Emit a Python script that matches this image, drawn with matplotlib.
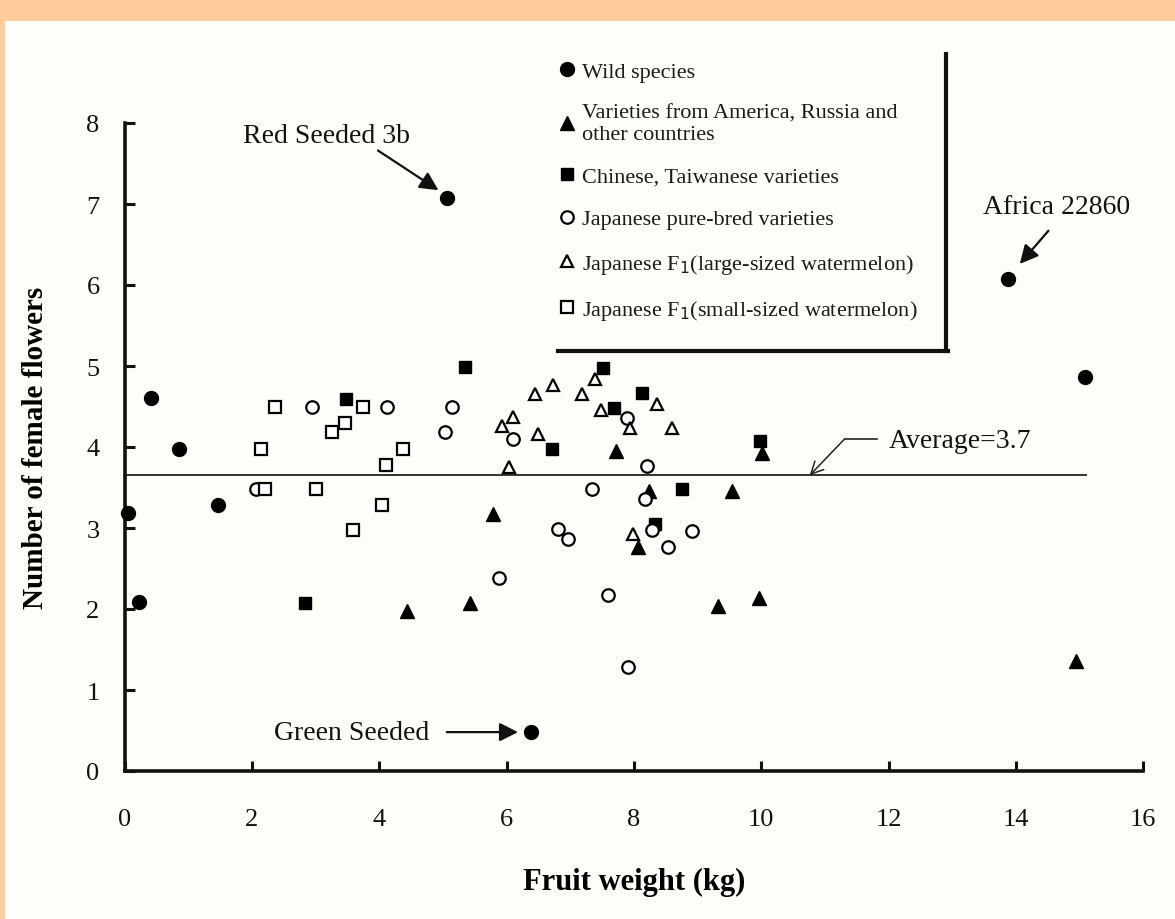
import matplotlib
matplotlib.use("Agg")
import matplotlib.pyplot as plt
from matplotlib.lines import Line2D
from matplotlib.patches import Rectangle

plt.rcParams['font.family'] = ['Liberation Serif', 'DejaVu Serif']

# ---------------- data ----------------
wild_x = [0.06, 0.22, 0.42, 0.85, 1.46, 5.06, 6.39, 13.88, 15.08]
wild_y = [3.18, 2.09, 4.60, 3.98, 3.28, 7.08, 0.48, 6.08, 4.87]

foreign_x = [5.78, 4.43, 5.42, 7.72, 8.07, 8.23, 9.54, 9.32, 9.97, 10.01, 14.95]
foreign_y = [3.17, 1.97, 2.07, 3.95, 2.76, 3.46, 3.46, 2.04, 2.14, 3.93, 1.36]

chinese_x = [3.48, 5.34, 2.84, 7.51, 8.13, 7.68, 6.71, 9.98, 8.75, 8.33]
chinese_y = [4.59, 4.99, 2.08, 4.98, 4.67, 4.48, 3.98, 4.08, 3.48, 3.05]

pure_x = [2.95, 4.12, 5.14, 5.04, 2.07, 5.88, 6.10, 7.89, 8.20, 7.34, 8.17,
          6.81, 6.96, 8.28, 8.54, 8.91, 7.59, 7.91]
pure_y = [4.49, 4.49, 4.49, 4.18, 3.48, 2.38, 4.10, 4.36, 3.77, 3.48, 3.36,
          2.99, 2.87, 2.97, 2.77, 2.96, 2.17, 1.28]

f1_large_x = [6.45, 6.10, 5.92, 6.50, 6.03, 6.73, 7.19, 7.39, 7.49, 8.36, 7.94, 8.59, 7.99]
f1_large_y = [4.66, 4.37, 4.26, 4.16, 3.75, 4.76, 4.65, 4.84, 4.46, 4.53, 4.24, 4.24, 2.93]

f1_small_x = [2.36, 3.74, 3.46, 3.26, 2.14, 4.38, 4.11, 2.21, 3.00, 4.04, 3.58]
f1_small_y = [4.49, 4.49, 4.30, 4.18, 3.98, 3.98, 3.78, 3.48, 3.48, 3.28, 2.98]

average_value = 3.65
average_x = [0.0, 15.1]
average_label = "Average=3.7"

labels = ["Wild species",
          "Varieties from America, Russia and\nother countries",
          "Chinese, Taiwanese varieties",
          "Japanese pure-bred varieties",
          "Japanese F$_1$(large-sized watermelon)",
          "Japanese F$_1$(small-sized watermelon)"]

x_ticks = [0, 2, 4, 6, 8, 10, 12, 14, 16]
y_ticks = [0, 1, 2, 3, 4, 5, 6, 7, 8]

# ---------------- figure ----------------
W, H = 1175, 920
fig = plt.figure(figsize=(W / 100, H / 100), dpi=100)
fig.patch.set_facecolor('#FEFEF9')

# scan border (peach strips)
fig.add_artist(Rectangle((0, 1 - 22 / H), 1, 22 / H, transform=fig.transFigure,
                         facecolor='#FFCB99', edgecolor='none', zorder=0))
fig.add_artist(Rectangle((0, 0), 5 / W, 1, transform=fig.transFigure,
                         facecolor='#FFCB99', edgecolor='none', zorder=0))

ax = fig.add_axes([124.6 / W, 148 / H, (1143.3 - 124.6) / W, 648 / H])
ax.set_facecolor('none')
ax.set_xlim(0, 16)
ax.set_ylim(0, 8)

for s in ['top', 'right']:
    ax.spines[s].set_visible(False)
for s in ['left', 'bottom']:
    ax.spines[s].set_linewidth(2.6)
    ax.spines[s].set_color('#111111')

ax.set_xticks(x_ticks)
ax.set_yticks(y_ticks)
ax.tick_params(axis='both', direction='in', length=7, width=2.2, colors='#111111',
               labelsize=19)
ax.tick_params(axis='x', pad=27)
ax.tick_params(axis='y', pad=18)

ms = 9.5
common = dict(linestyle='none', clip_on=False, zorder=3)
h1, = ax.plot(wild_x, wild_y, marker='o', markersize=10, color='black', label=labels[0], **common)
h2, = ax.plot(foreign_x, foreign_y, marker='^', markersize=ms, color='black', label=labels[1], **common)
h3, = ax.plot(chinese_x, chinese_y, marker='s', markersize=9, color='black', label=labels[2], **common)
h4, = ax.plot(pure_x, pure_y, marker='o', markersize=9, markerfacecolor='white',
              markeredgecolor='black', markeredgewidth=1.6, label=labels[3], **common)
h5, = ax.plot(f1_large_x, f1_large_y, marker='^', markersize=9, markerfacecolor='white',
              markeredgecolor='black', markeredgewidth=1.6, label=labels[4], **common)
h6, = ax.plot(f1_small_x, f1_small_y, marker='s', markersize=9, markerfacecolor='white',
              markeredgecolor='black', markeredgewidth=1.6, label=labels[5], **common)

# average line
ax.plot(average_x, [average_value, average_value], color='#222222', linewidth=1.3, zorder=2)
ax.annotate('', xy=(10.76, average_value), xytext=(11.31, 4.10),
            arrowprops=dict(arrowstyle='->', color='#222222', lw=1.1,
                            mutation_scale=22, shrinkA=0, shrinkB=0))
ax.plot([11.31, 11.82], [4.10, 4.10], color='#222222', linewidth=1.2)
ax.text(12.0, 4.08, average_label, fontsize=20, va='center', ha='left', color='#111111')

# point annotations
arrow_kw = dict(arrowstyle='-|>', color='#111111', lw=1.6, mutation_scale=28,
                shrinkA=0, shrinkB=0)
ax.annotate('', xy=(4.93, 7.17), xytext=(3.98, 7.66), arrowprops=arrow_kw)
ax.text(3.17, 7.84, 'Red Seeded 3b', fontsize=20, ha='center', va='center', color='#111111')

ax.annotate('', xy=(14.06, 6.26), xytext=(14.51, 6.67), arrowprops=arrow_kw)
ax.text(14.63, 6.97, 'Africa 22860', fontsize=20, ha='center', va='center', color='#111111')

ax.annotate('', xy=(6.18, 0.48), xytext=(5.06, 0.48), arrowprops=arrow_kw)
ax.text(3.57, 0.48, 'Green Seeded', fontsize=20, ha='center', va='center', color='#111111')

# axis labels
ax.set_xlabel('Fruit weight (kg)', fontsize=22, fontweight='bold', labelpad=26)
ax.set_ylabel('Number of female flowers', fontsize=21, fontweight='bold', labelpad=27)

# legend
leg = fig.legend(handles=[h1, h2, h3, h4, h5, h6], loc='upper left',
                 bbox_to_anchor=(558 / W, 1 - 62 / H), frameon=False, fontsize=16,
                 handlelength=0.85, handletextpad=0.22, labelspacing=1.0,
                 borderpad=0, borderaxespad=0, numpoints=1, markerscale=1.0)
for t in leg.get_texts():
    t.set_linespacing(1.15)
    t.set_color('#1a1a1a')

# legend shadow edges
fig.add_artist(Line2D([946 / W, 946 / W], [1 - 55 / H, 1 - 352 / H],
                      transform=fig.transFigure, color='#111111', linewidth=3))
fig.add_artist(Line2D([558 / W, 948 / W], [1 - 352 / H, 1 - 352 / H],
                      transform=fig.transFigure, color='#111111', linewidth=3))

fig.savefig('out.png', dpi=100, facecolor=fig.get_facecolor())
